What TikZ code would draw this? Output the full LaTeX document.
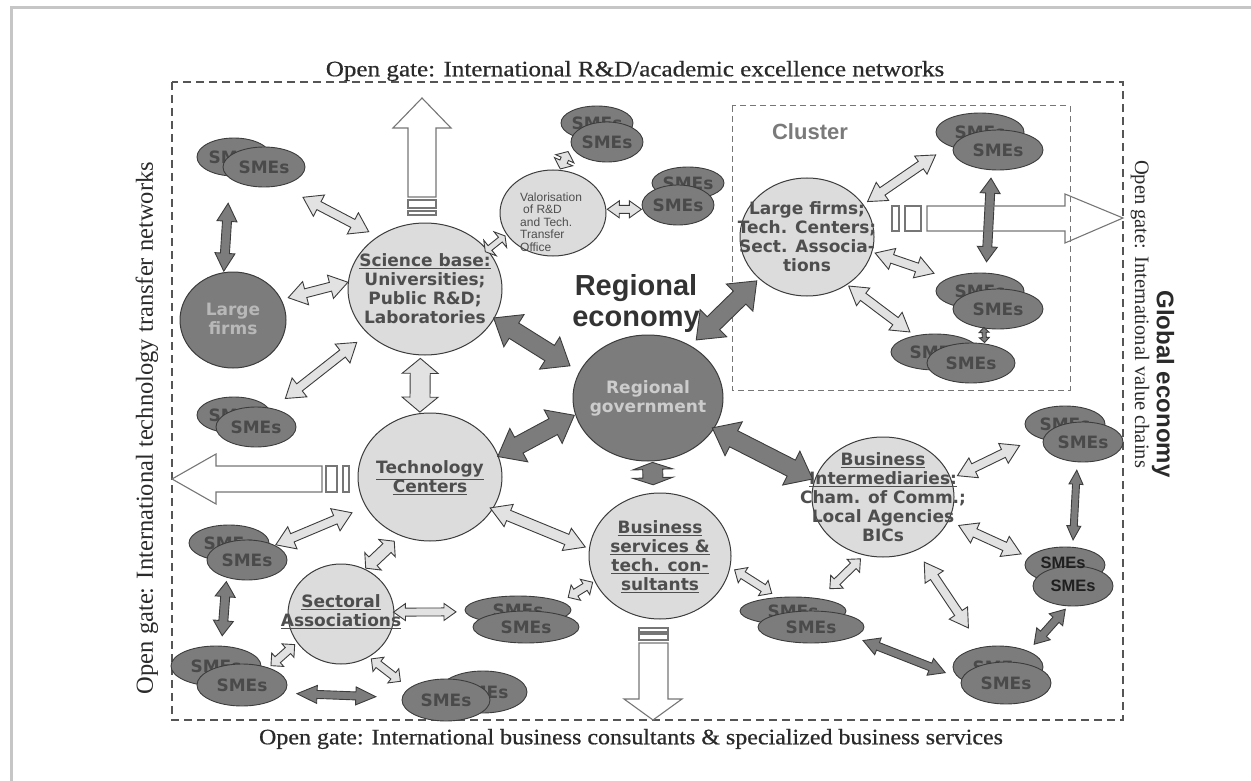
\documentclass[tikz,border=0pt]{standalone}
\usepackage{fontspec}
\usepackage{graphicx}
\setmainfont{Liberation Serif}
\newfontfamily\titlefont[FakeBold=0.6]{Liberation Serif}
\newfontfamily\dejavu{DejaVu Sans}
\newfontfamily\arial{Liberation Sans}
\usetikzlibrary{calc,shapes.geometric}
\definecolor{lightfill}{HTML}{DCDCDC}
\definecolor{darkfill}{HTML}{7C7C7C}
\definecolor{edge}{HTML}{3C3C3C}
\definecolor{txtgray}{HTML}{4E4E4E}
\definecolor{smetext}{HTML}{4A4A4A}
\definecolor{arrowlight}{HTML}{E2E2E2}
\definecolor{gatecol}{HTML}{767676}
\definecolor{framecol}{HTML}{C6C6C6}
\definecolor{titlecol}{HTML}{2A2A2A}
\definecolor{dashcol}{HTML}{555555}
\def\bga{0pt}\def\bgb{0pt}\def\bsw{4pt}\def\bhw{10pt}\def\bhl{14pt}
\tikzset{
  blk/.code n args={3}{\def\bsw{#1pt}\def\bhw{#2pt}\def\bhl{#3pt}},
  tipgap/.code 2 args={\def\bga{#1pt}\def\bgb{#2pt}},
  blockarrow/.style={to path={let \p1=($(\tikztostart)!\bga!(\tikztotarget)$), \p2=($(\tikztotarget)!\bgb!(\tikztostart)$) in
    (\p1) -- ($(\p1)!\bhl!(\p2)!\bhw!90:(\p2)$) -- ($(\p1)!\bhl!(\p2)!\bsw!90:(\p2)$)
    -- ($(\p2)!\bhl!(\p1)!\bsw!-90:(\p1)$) -- ($(\p2)!\bhl!(\p1)!\bhw!-90:(\p1)$) -- (\p2)
    -- ($(\p2)!\bhl!(\p1)!\bhw!90:(\p1)$) -- ($(\p2)!\bhl!(\p1)!\bsw!90:(\p1)$)
    -- ($(\p1)!\bhl!(\p2)!\bsw!-90:(\p2)$) -- ($(\p1)!\bhl!(\p2)!\bhw!-90:(\p2)$) -- cycle}},
  la/.style={blockarrow, draw=edge, fill=arrowlight, line width=0.9pt},
  da/.style={blockarrow, draw=edge, fill=darkfill, line width=0.9pt},
  lightc/.style={ellipse, draw=edge, fill=lightfill, line width=1pt, inner sep=0pt},
  darkc/.style={ellipse, draw=edge, fill=darkfill, line width=1pt, inner sep=0pt},
  ctext/.style={text=txtgray, font=\dejavu\bfseries\fontsize{17}{19}\selectfont, align=center, inner sep=0pt},
  sme/.style={ellipse, draw=edge, fill=darkfill, line width=0.9pt, inner sep=0pt, text=smetext, font=\dejavu\bfseries\fontsize{17}{19}\selectfont},
  gate/.style={draw=gatecol, fill=white, line width=1.1pt},
  gateo/.style={draw=gatecol, line width=1.1pt},
}
\begin{document}
\begin{tikzpicture}[x=1pt,y=-1pt]
\useasboundingbox (0,0) rectangle (1251,781);
% frame
\draw[framecol, line width=3pt] (11,781) -- (11,8) -- (1251,8);
% dashed boxes
\draw[dashcol, line width=1.2pt, dash pattern=on 8pt off 5pt] (172,82) rectangle (1123,720);
\draw[gatecol, line width=1pt, dash pattern=on 6pt off 4pt] (732,106) rectangle (1070,390);
% gate arrows
\draw[gate] (408,197) -- (408,128) -- (393,128) -- (422,98) -- (451,128) -- (436,128) -- (436,197) -- cycle;
\draw[gate] (408,200) rectangle (436,208);
\draw[gate] (408,211) rectangle (436,215);
\draw[gate] (322,466) -- (216,466) -- (216,454) -- (172,479) -- (216,504) -- (216,492) -- (322,492) -- cycle;
\draw[gate] (326,466) rectangle (337,492);
\draw[gate] (343,466) rectangle (349,492);
\draw[gate] (639,643) -- (639,699) -- (624,699) -- (653,720) -- (682,699) -- (668,699) -- (668,643) -- cycle;
\draw[gate] (639,628) rectangle (668,632);
\draw[gate] (639,634) rectangle (668,640);
% main circles
\node[lightc, minimum width=154pt, minimum height=132pt] (sci) at (425,289) {};
\node[lightc, minimum width=106pt, minimum height=86pt] (val) at (553,213) {};
\node[darkc, minimum width=106pt, minimum height=96pt] (large) at (233,320) {};
\node[darkc, minimum width=150pt, minimum height=126pt] (gov) at (648,398) {};
\node[lightc, minimum width=144pt, minimum height=128pt] (tech) at (430,477) {};
\node[lightc, minimum width=106pt, minimum height=100pt] (sect) at (341,614) {};
\node[lightc, minimum width=142pt, minimum height=126pt] (bus) at (660,556) {};
\node[lightc, minimum width=142pt, minimum height=120pt] (inter) at (883,497) {};
\node[lightc, minimum width=134pt, minimum height=118pt] (clus) at (807,237) {};
% circle texts
\node[ctext] (scit) at (425,289) {\underline{Science base:}\\Universities;\\Public R\&D;\\Laboratories};
\node[ctext, text=white!72!black] (larget) at (233,319) {Large\\firms};
\node[ctext, text=white!80!black] (govt) at (648,398) {Regional\\government};
\node[ctext] (techt) at (430,478) {\underline{Technology}\\\underline{Centers}};
\node[ctext] (sectt) at (341,612) {\underline{Sectoral}\\\underline{Associations}};
\node[ctext] (bust) at (660,557) {\underline{Business}\\\underline{services \&}\\\underline{tech. con-}\\\underline{sultants}};
\node[ctext] (intert) at (883,497) {\underline{Business}\\\underline{Intermediaries:}\\Cham. of Comm.;\\Local Agencies\\BICs};
\node[ctext] (clust) at (807,237) {Large firms;\\Tech. Centers;\\Sect. Associa-\\tions};
\node[anchor=west, align=left, text=txtgray, inner sep=0pt, font=\arial\fontsize{12}{12.6}\selectfont] (valt) at (520,222) {Valorisation\\\hspace*{3pt}of R\&D\\and Tech.\\Transfer\\Office};
% SMEs
\node[sme, minimum width=74pt, minimum height=38pt] (s1b) at (234,157) {SMEs};
\node[sme, minimum width=82pt, minimum height=40pt] (s1) at (264,167) {SMEs};
\node[sme, minimum width=72pt, minimum height=34pt] (s2b) at (597,123) {SMEs};
\node[sme, minimum width=72pt, minimum height=40pt] (s2) at (607,142) {SMEs};
\node[sme, minimum width=70pt, minimum height=32pt] (s3b) at (688,183) {SMEs};
\node[sme, minimum width=70pt, minimum height=40pt] (s3) at (678,205) {SMEs};
\node[sme, minimum width=88pt, minimum height=38pt] (s4b) at (980,132) {SMEs};
\node[sme, minimum width=90pt, minimum height=40pt] (s4) at (998,150) {SMEs};
\node[sme, minimum width=88pt, minimum height=36pt] (s5b) at (980,291) {SMEs};
\node[sme, minimum width=90pt, minimum height=40pt] (s5) at (998,309) {SMEs};
\node[sme, minimum width=88pt, minimum height=36pt] (s6b) at (935,352) {SMEs};
\node[sme, minimum width=88pt, minimum height=40pt] (s6) at (971,363) {SMEs};
\node[sme, minimum width=74pt, minimum height=36pt] (s7b) at (234,415) {SMEs};
\node[sme, minimum width=80pt, minimum height=40pt] (s7) at (256,427) {SMEs};
\node[sme, minimum width=80pt, minimum height=36pt] (s8b) at (229,543) {SMEs};
\node[sme, minimum width=80pt, minimum height=40pt] (s8) at (247,560) {SMEs};
\node[sme, minimum width=90pt, minimum height=40pt] (s9b) at (216,666) {SMEs};
\node[sme, minimum width=90pt, minimum height=42pt] (s9) at (242,685) {SMEs};
\node[sme, minimum width=88pt, minimum height=42pt] (s10b) at (483,692) {SMEs};
\node[sme, minimum width=88pt, minimum height=42pt] (s10) at (446,700) {SMEs};
\node[sme, minimum width=106pt, minimum height=28pt] (s11b) at (518,610) {SMEs};
\node[sme, minimum width=106pt, minimum height=32pt] (s11) at (526,627) {SMEs};
\node[sme, minimum width=106pt, minimum height=28pt] (s12b) at (793,611) {SMEs};
\node[sme, minimum width=106pt, minimum height=32pt] (s12) at (811,627) {SMEs};
\node[sme, minimum width=90pt, minimum height=42pt] (s13b) at (998,667) {SMEs};
\node[sme, minimum width=90pt, minimum height=42pt] (s13) at (1006,683) {SMEs};
\node[sme, minimum width=80pt, minimum height=36pt] (s14b) at (1065,424) {SMEs};
\node[sme, minimum width=80pt, minimum height=40pt] (s14) at (1083,442) {SMEs};
\node[sme, minimum width=80pt, minimum height=36pt] (s15b) at (1065,565) {};
\node[sme, minimum width=80pt, minimum height=40pt, text=black!88, font=\arial\bfseries\fontsize{16.5}{18}\selectfont] (s15) at (1073,586) {SMEs};
\node[inner sep=0pt, text=black!88, font=\arial\bfseries\fontsize{16.5}{18}\selectfont] (s15bt) at (1063,563) {SMEs};
% labels
\node[inner sep=0pt, text=black!80, font=\arial\bfseries\fontsize{29}{31}\selectfont, align=center] (regecon) at (636,304) {Regional\\economy};
\node[inner sep=0pt, text=black!52, font=\arial\bfseries\fontsize{22}{24}\selectfont] (clusterlbl) at (810,132) {Cluster};
% light arrows
\draw[la, blk={4.5}{12}{18}, tipgap={25}{10}] (s1.-48) to (sci.132);
\draw[la, blk={4.5}{12}{18}, tipgap={7}{0}] (large.23) to (sci.175);
\draw[la, blk={4.5}{12}{18}, tipgap={16}{14}] (s7.48) to (sci.-142);
\draw[la, blk={10}{18}{15}, tipgap={3}{1}] (sci.-94) to (tech.99);
\draw[la, blk={4.5}{12}{18}, tipgap={1}{15}] (s8.28) to (tech.-155);
\draw[la, blk={6}{12}{10}, tipgap={1}{8}] (sect.62) to (tech.-117);
\draw[la, blk={5.5}{12}{20}, tipgap={-3}{4}] (tech.-27) to (bus.174);
\draw[la, blk={4}{8.5}{12}, tipgap={-1}{9}] (sect.2) to (s11b.182);
\draw[la, blk={4}{9}{9}, tipgap={3}{3}] (s9.33) to (sect.-147);
\draw[la, blk={4}{9}{9}, tipgap={3}{11}] (sect.-57) to (s10.162);
\draw[la, blk={4}{9}{9}, tipgap={8}{2}] (s11b.11) to (bus.-159);
\draw[la, blk={4}{9}{10}, tipgap={5}{7}] (bus.-9) to (s12b.138);
\draw[la, blk={4}{9}{10}, tipgap={14}{5}] (s12b.25) to (inter.-108);
\draw[la, blk={4.5}{11}{18}, tipgap={14}{23}] (inter.-58) to (s13b.130);
\draw[la, blk={4.5}{11}{18}, tipgap={7}{19}] (inter.15) to (s14b.-155);
\draw[la, blk={4.5}{11}{18}, tipgap={11}{8}] (inter.-20) to (s15b.168);
\draw[la, blk={4}{10}{8}, tipgap={1}{7}] (val.81) to (s2.-175);
\draw[la, blk={4}{8.5}{12}, tipgap={1}{1}] (val.4) to (s3.-173);
\draw[la, blk={3}{10}{6}, tipgap={-3}{2}] (sci.32) to (val.-155);
\draw[la, blk={4.5}{11}{18}, tipgap={5}{16}] (clus.30) to (s4b.-156);
\draw[la, blk={4.5}{11}{18}, tipgap={3}{15}] (clus.-13) to (s5b.158);
\draw[la, blk={4.5}{11}{18}, tipgap={2}{6}] (clus.-50) to (s6b.141);
% dark arrows
\draw[da, blk={4.5}{10}{18}, tipgap={27}{1}] (s1b.-102) to (large.101);
\draw[da, blk={9}{19}{24}, tipgap={-1}{11}] (sci.-23) to (gov.159);
\draw[da, blk={9}{19}{24}, tipgap={8}{3}] (gov.51) to (clus.-139);
\draw[da, blk={9}{19}{24}, tipgap={-1}{1}] (tech.17) to (gov.-167);
\draw[da, blk={10}{20}{7}, tipgap={1}{8}] (gov.-86) to (bus.96);
\draw[da, blk={9}{19}{24}, tipgap={-2}{2}] (gov.-25) to (inter.166);
\draw[da, blk={4.5}{10}{15}, tipgap={8}{11}] (s4.-108) to (s5b.72);
\draw[da, blk={2}{5}{5}, tipgap={-1}{1}] (s5.-126) to (s6.55);
\draw[da, blk={3.5}{7}{14}, tipgap={8}{7}] (s14.-106) to (s15b.67);
\draw[da, blk={4}{9}{14}, tipgap={4}{9}] (s15.-104) to (s13b.28);
\draw[da, blk={4}{9}{16}, tipgap={10}{15}] (s12.-13) to (s13b.-164);
\draw[da, blk={4.5}{10}{15}, tipgap={4}{10}] (s8.-139) to (s9b.75);
\draw[da, blk={4}{9}{20}, tipgap={13}{26}] (s9.-11) to (s10.177);
% cluster gate arrow (outline only, over the cluster arrows)
\draw[gateo] (927,206) -- (1065,206) -- (1065,194) -- (1123,218) -- (1065,243) -- (1065,231) -- (927,231) -- cycle;
\draw[gateo] (892,206) rectangle (899,231);
\draw[gateo] (905,206) rectangle (921,231);
% titles
\node[inner sep=0pt, text=titlecol, font=\titlefont\fontsize{22}{24}\selectfont] (topgate) at (635,71) {\scalebox{1.14}[1]{Open gate: International R\&D/academic excellence networks}};
\node[inner sep=0pt, text=titlecol, font=\titlefont\fontsize{22}{24}\selectfont] (botgate) at (631,739) {\scalebox{1.09}[1]{Open gate: International business consultants \& specialized business services}};
\node[inner sep=0pt, text=titlecol, rotate=90, font=\fontsize{24.5}{26}\selectfont] (leftgate) at (147,428) {Open gate: International technology transfer networks};
\node[inner sep=0pt, text=titlecol, rotate=-90, font=\fontsize{20.5}{22}\selectfont] (rightgate) at (1140,314) {Open gate: International value chains};
\node[inner sep=0pt, text=titlecol, rotate=-90, font=\arial\bfseries\fontsize{24}{26}\selectfont] (global) at (1163,384) {Global economy};
\end{tikzpicture}
\end{document}
